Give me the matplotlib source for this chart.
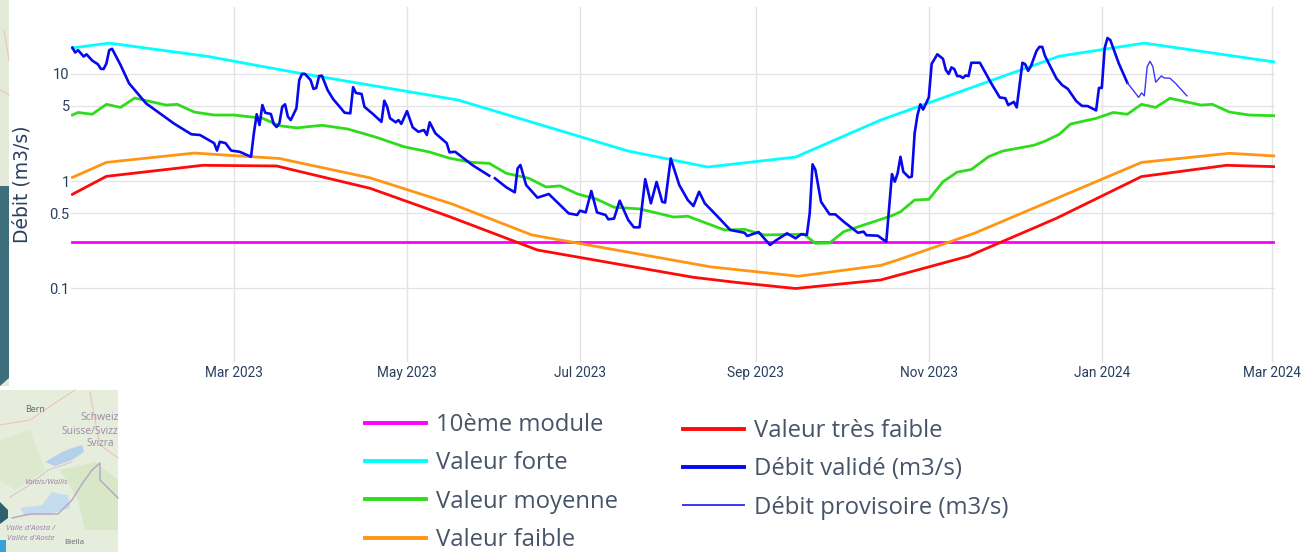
import pandas as pd
import matplotlib.pyplot as plt
from matplotlib.patches import Rectangle, Polygon
from matplotlib.ticker import FixedLocator, FixedFormatter
import matplotlib.dates as mdates

# Seuils : jours depuis le 1er janvier 2023, debit en m3/s
start = pd.Timestamp('2023-01-01')

module_days = [2, 426]
module_vals = [0.27, 0.27]

forte_days = [2, 15, 50, 80, 138, 198, 226, 257, 287, 350, 380, 426]
forte_vals = [17.3, 19.2, 14.4, 10.3, 5.67, 1.90, 1.35, 1.67, 3.69, 14.5, 19.2, 12.8]

moyenne_days = [2, 4, 9, 14, 19, 24, 30, 35, 39, 45, 52, 59, 69, 75, 81, 90, 99, 106, 110,
                119, 128, 135, 143, 149, 155, 163, 169, 174, 180, 187, 193, 202, 214, 219,
                232, 239, 246, 260, 264, 269, 274, 291, 294, 299, 304, 309, 314, 319, 325,
                330, 341, 345, 350, 354, 363, 369, 374, 379, 384, 389, 400, 404, 410, 417, 426]
moyenne_vals = [4.11, 4.34, 4.18, 5.17, 4.84, 5.92, 5.45, 5.09, 5.17, 4.38, 4.11, 4.11, 3.84,
                3.27, 3.12, 3.30, 3.05, 2.70, 2.51, 2.08, 1.86, 1.63, 1.49, 1.46, 1.18, 1.06,
                0.88, 0.90, 0.76, 0.676, 0.57, 0.55, 0.462, 0.47, 0.35, 0.355, 0.315, 0.32,
                0.263, 0.265, 0.338, 0.476, 0.517, 0.666, 0.675, 0.985, 1.21, 1.28, 1.68, 1.90,
                2.15, 2.35, 2.72, 3.39, 3.83, 4.34, 4.18, 5.17, 4.84, 5.88, 5.09, 5.17, 4.38,
                4.11, 4.05]

faible_days = [2, 14, 45, 75, 107, 136, 164, 227, 258, 287, 293, 320, 379, 410, 426]
faible_vals = [1.08, 1.49, 1.82, 1.62, 1.07, 0.61, 0.315, 0.159, 0.13, 0.164, 0.184, 0.326, 1.49, 1.81, 1.71]

tres_faible_days = [2, 14, 48, 74, 107, 135, 166, 221, 236, 257, 287, 318, 349, 379, 409, 426]
tres_faible_vals = [0.752, 1.105, 1.40, 1.38, 0.855, 0.466, 0.228, 0.127, 0.114, 0.10, 0.12, 0.20, 0.45, 1.10, 1.40, 1.36]

# Debit valide, deux morceaux (trou de donnees fin mai)
valide1_days = [2, 3, 4, 6, 7, 9, 11, 12, 13, 14, 15, 16, 19, 22, 28, 38, 44, 47, 52, 53, 54,
                56, 58, 61, 65, 66, 67, 68, 69, 70, 72, 73, 74, 75, 76, 77, 78, 79, 81, 82, 83,
                84, 86, 87, 88, 89, 90, 92, 94, 96, 98, 100, 101, 102, 104, 105, 108, 111, 112,
                113, 114, 116, 117, 118, 120, 122, 124, 126, 127, 128, 130, 134, 135, 137, 143, 149]
valide1_vals = [17.4, 15.7, 16.5, 14.4, 15.1, 13.2, 12.2, 11.1, 11.0, 12.4, 16.5, 17.0, 12.0, 8.1,
                5.27, 3.4, 2.72, 2.68, 2.25, 1.92, 2.32, 2.25, 1.92, 1.87, 1.68, 2.78, 4.18, 3.32,
                5.09, 4.32, 4.2, 3.4, 3.18, 3.44, 4.9, 5.17, 3.96, 3.69, 4.74, 8.7, 9.92, 9.92,
                8.7, 7.2, 7.34, 9.47, 9.55, 7.02, 5.76, 5.0, 4.32, 4.26, 7.46, 6.6, 6.45, 4.9, 4.2,
                3.55, 5.58, 4.9, 3.84, 3.52, 3.69, 3.4, 4.47, 3.16, 2.87, 2.98, 2.68, 3.52, 2.78,
                2.25, 1.85, 1.87, 1.41, 1.12]

valide2_days = [151, 155, 158, 159, 160, 162, 166, 170, 177, 180, 181, 183, 185, 187, 190, 191,
                193, 195, 198, 200, 202, 204, 206, 208, 210, 211, 213, 216, 219, 221, 223, 225,
                229, 234, 239, 240, 244, 248, 250, 254, 257, 259, 261, 262, 263, 264, 266, 269,
                271, 274, 279, 281, 282, 286, 289, 291, 292, 293, 294, 295, 297, 298, 299, 300,
                301, 302, 304, 305, 307, 309, 310, 311, 312, 313, 314, 315, 316, 317, 318, 319,
                322, 326, 329, 331, 332, 334, 335, 337, 338, 339, 340, 342, 343, 344, 345, 349,
                351, 353, 356, 358, 360, 363, 364, 365, 366, 367, 368, 371, 374]
valide2_vals = [1.06, 0.874, 0.785, 1.31, 1.41, 0.918, 0.70, 0.757, 0.50, 0.483, 0.53, 0.51, 0.807,
                0.51, 0.483, 0.44, 0.447, 0.656, 0.434, 0.371, 0.371, 1.04, 0.62, 0.98, 0.64, 0.63,
                1.62, 0.918, 0.666, 0.585, 0.795, 0.62, 0.483, 0.35, 0.33, 0.308, 0.335, 0.254,
                0.279, 0.326, 0.293, 0.32, 0.315, 0.50, 1.43, 1.27, 0.64, 0.49, 0.49, 0.418, 0.33,
                0.338, 0.313, 0.31, 0.272, 1.16, 0.985, 1.18, 1.68, 1.22, 1.08, 1.10, 2.78, 4.11,
                5.17, 4.62, 6.0, 12.3, 15.1, 13.7, 10.8, 9.92, 11.4, 11.0, 9.47, 9.47, 9.1, 9.6,
                9.47, 12.6, 12.6, 8.12, 6.0, 5.88, 5.09, 5.45, 4.84, 12.6, 12.2, 10.6, 11.7, 16.3,
                17.7, 17.7, 14.5, 9.0, 7.82, 7.2, 5.54, 5.0, 4.98, 4.54, 7.35, 7.35, 17.2, 21.4,
                20.5, 12.4, 8.2]

provisoire_days = [374, 378, 379, 380, 381, 382, 383, 384, 386, 387, 389, 391, 395]
provisoire_vals = [8.2, 6.0, 6.6, 6.2, 11.6, 13.0, 11.6, 8.3, 9.5, 9.1, 9.05, 8.1, 6.2]

y_ticks = [0.1, 0.5, 1, 5, 10]
y_labels = ['0.1', '0.5', '1', '5', '10']
x_ticks = ['2023-03-01', '2023-05-01', '2023-07-01', '2023-09-01', '2023-11-01', '2024-01-01', '2024-03-01']


def to_dates(days):
    return start + pd.to_timedelta(days, unit='D')


W, H = 1312, 552
TEXT = '#2a3f5f'
fig = plt.figure(figsize=(W / 100, H / 100), dpi=100)
ax = fig.add_axes([71 / W, (H - 362) / H, (1275 - 71) / W, 355 / H])


def box(x0, y0, x1, y1, color):
    # rectangle en pixels de l'image, pour le fond de carte
    fig.patches.append(Rectangle((x0 / W, 1 - y1 / H), (x1 - x0) / W, (y1 - y0) / H,
                                 transform=fig.transFigure, color=color, lw=0))


def poly(points, color):
    pts = [(x / W, 1 - y / H) for x, y in points]
    fig.patches.append(Polygon(pts, transform=fig.transFigure, color=color, lw=0))


def line(points, color, lw=1.0):
    fig.add_artist(plt.Line2D([p[0] / W for p in points], [1 - p[1] / H for p in points],
                              color=color, lw=lw, transform=fig.transFigure))


# Bouts de carte visibles derriere le graphique
box(0, 0, 9, 186, '#e3ebd8')
box(0, 186, 9, 386, '#3d6e7c')
box(0, 390, 118, 552, '#e6eddc')
poly([(0, 386), (9, 378), (9, 386)], '#e4ecd9')
poly([(60, 470), (95, 462), (118, 480), (118, 530), (85, 530), (78, 500)], '#d8e7c8')
poly([(0, 440), (30, 430), (45, 470), (15, 490), (0, 480)], '#dde9cd')
poly([(45, 462), (62, 452), (72, 448), (82, 445), (84, 452), (72, 460), (55, 466)], '#b5d0ea')
poly([(20, 508), (42, 505), (52, 492), (60, 494), (68, 495), (70, 508), (50, 514), (25, 516)], '#c5dcee')
poly([(0, 502), (8, 510), (8, 518), (0, 524)], '#2f6070')
poly([(0, 540), (6, 540), (6, 552), (0, 552)], '#39a0dc')
line([(12, 518), (30, 514), (58, 514), (72, 500), (82, 484), (92, 470), (100, 463), (100, 480), (118, 498)], '#b7a4c0', 1.0)
line([(10, 497), (28, 486), (48, 470), (72, 462)], '#d5c8cf', 0.8)
line([(0, 425), (30, 420), (52, 405), (75, 390)], '#eec3ba', 0.8)
line([(90, 392), (95, 420), (100, 445), (118, 458)], '#eec3ba', 0.8)
line([(4, 30), (9, 60)], '#eec3ba', 0.8)
line([(0, 90), (9, 95)], '#eec3ba', 0.8)
map_labels = [(35, 409, 'Bern', '#5f6a72', 6.5, 'normal'), (100, 418, 'Schweiz', '#9a8aa8', 7.5, 'normal'),
              (90, 431, 'Suisse/Svizz', '#9a8aa8', 7.4, 'normal'), (100, 443, 'Svizra', '#9a8aa8', 7.2, 'normal'),
              (46, 483, 'Valais/Wallis', '#9a7fa8', 5.6, 'italic'), (30, 528, "Valle d'Aosta /", '#9a7fa8', 5.7, 'italic'),
              (31, 538, "Vallée d'Aoste", '#9a7fa8', 5.7, 'italic'), (74, 543, 'Biella', '#5f6a72', 5.8, 'normal')]
for mx, my, txt, col, fs, st in map_labels:
    fig.text(mx / W, 1 - my / H, txt, color=col, fontsize=fs, style=st, ha='center', va='center', family='Open Sans')

ax.patch.set_alpha(0)
l_module, = ax.plot(to_dates(module_days), module_vals, color='#ff00ff', lw=2, label='10ème module', zorder=3)
l_forte, = ax.plot(to_dates(forte_days), forte_vals, color='#00ffff', lw=2, label='Valeur forte', zorder=3)
l_moy, = ax.plot(to_dates(moyenne_days), moyenne_vals, color='#2fdc1c', lw=2, label='Valeur moyenne', zorder=3)
l_faible, = ax.plot(to_dates(faible_days), faible_vals, color='#ff9613', lw=2, label='Valeur faible', zorder=3)
l_tres, = ax.plot(to_dates(tres_faible_days), tres_faible_vals, color='#ff0a0a', lw=2, label='Valeur très faible', zorder=3)
l_val, = ax.plot(to_dates(valide1_days), valide1_vals, color='#0808f0', lw=1.9, label='Débit validé (m3/s)', zorder=4)
ax.plot(to_dates(valide2_days), valide2_vals, color='#0808f0', lw=1.9, zorder=4)
l_pro, = ax.plot(to_dates(provisoire_days), provisoire_vals, color='#3a3af0', lw=1, label='Débit provisoire (m3/s)', zorder=4)

ax.set_yscale('log')
ax.set_ylim(0.0207, 41.6)
ax.set_xlim(start + pd.Timedelta(days=1.52), start + pd.Timedelta(days=426.07))
ax.yaxis.set_major_locator(FixedLocator(y_ticks))
ax.yaxis.set_major_formatter(FixedFormatter(y_labels))
ax.yaxis.set_minor_locator(FixedLocator([]))
ax.set_xticks(pd.to_datetime(x_ticks))
ax.xaxis.set_major_formatter(mdates.DateFormatter('%b %Y'))

ax.tick_params(axis='y', length=0, labelsize=10.5, labelcolor=TEXT, pad=1)
ax.tick_params(axis='x', length=0, labelsize=9.8, labelcolor=TEXT, pad=3)
for lab in ax.get_xticklabels() + ax.get_yticklabels():
    lab.set_family('Roboto')
ax.grid(True, axis='y', color='#e3e3e3', lw=0.9, zorder=0)
ax.grid(True, axis='x', color='#e3e3e3', lw=1.0, zorder=0)
ax.set_axisbelow(True)
for s in ax.spines.values():
    s.set_visible(False)

fig.text(22 / W, 1 - 184 / H, 'Débit (m3/s)', rotation=90, color=TEXT, fontsize=13.5,
         ha='center', va='center', family='DejaVu Sans')

leg_style = dict(frameon=False, labelcolor='#465468', handlelength=2.55, handletextpad=0.42,
                 labelspacing=0.6, borderpad=0, borderaxespad=0, prop={'family': 'Open Sans', 'size': 17.2})
leg1 = fig.legend(handles=[l_module, l_forte, l_moy, l_faible], loc='upper left',
                  bbox_to_anchor=(365 / W, 1 - 413 / H), **leg_style)
leg2 = fig.legend(handles=[l_tres, l_val, l_pro], loc='upper left',
                  bbox_to_anchor=(683 / W, 1 - 419 / H), **leg_style)
for leg in (leg1, leg2):
    for h in leg.get_lines():
        h.set_linewidth(2.8 if h.get_linewidth() > 1.5 else 1.4)

fig.savefig('out.png', dpi=100)
